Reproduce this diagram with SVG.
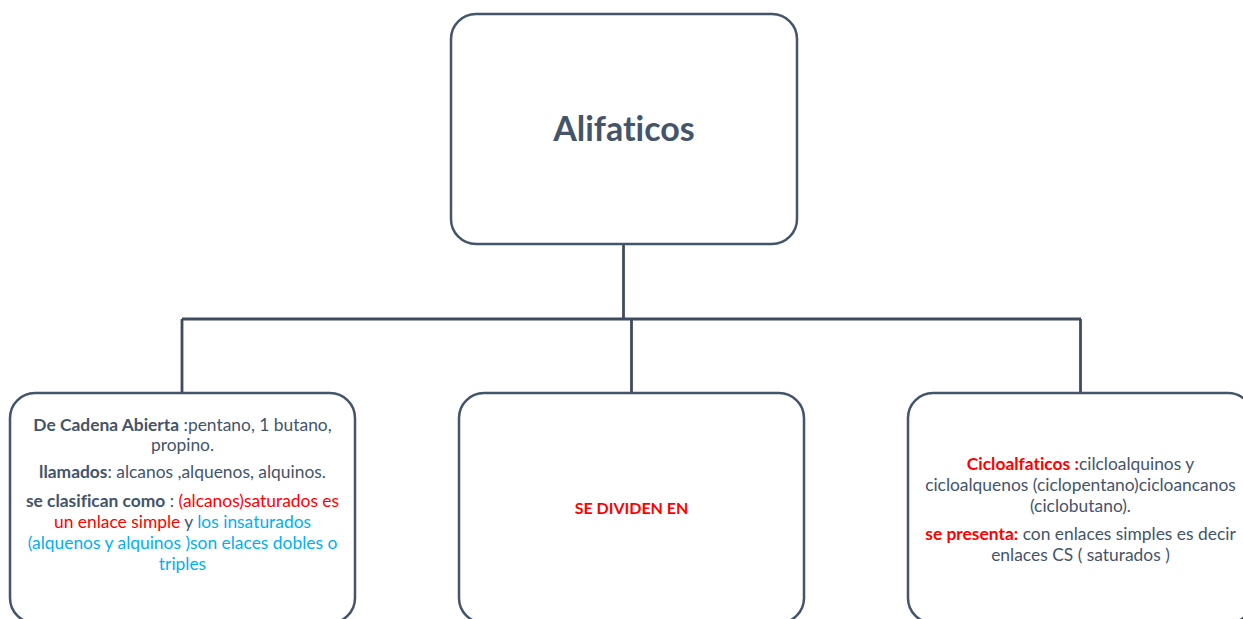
<svg xmlns="http://www.w3.org/2000/svg" width="1243" height="619" viewBox="0 0 1243 619">
<style>
.box{fill:#fff;stroke:#44546A;stroke-width:2.5}
.conn{fill:none;stroke:#3F4B5E;stroke-width:2.8}
text{font-variant-ligatures:none}
.t{font-family:Lato,"Liberation Sans",sans-serif;font-size:17.4px;fill:#44546A;text-anchor:middle}
.b{font-weight:bold}
.r{fill:#FF0000}
.c{fill:#00B0F0}
.m{font-size:16px}
.title{font-family:Lato,"Liberation Sans",sans-serif;font-size:34px;font-weight:bold;fill:#44546A;text-anchor:middle}
</style>
<rect width="1243" height="619" fill="#fff"/>
<g id="connectors">
<path class="conn" d="M623.5 244 V319"/>
<path class="conn" d="M182 319 H1081"/>
<path class="conn" d="M182 319 V393"/>
<path class="conn" d="M631.5 319 V393"/>
<path class="conn" d="M1080.5 319 V393"/>
</g>
<g id="alifaticos">
<rect class="box" x="451" y="14" width="346" height="230" rx="25"/>
<text class="title" x="624" y="141">Alifaticos</text>
</g>
<g id="cadena-abierta">
<rect class="box" x="10" y="393" width="345" height="230" rx="25"/>
<text class="t" x="182.5" y="430.5"><tspan class="b">De Cadena Abierta</tspan> :pentano, 1 butano,</text>
<text class="t" x="182.5" y="451">propino.</text>
<text class="t" x="182.5" y="478"><tspan class="b">llamados</tspan>: alcanos ,alquenos, alquinos.</text>
<text class="t" x="182.5" y="506.5"><tspan class="b">se clasifican como</tspan> : <tspan class="r">(alcanos)saturados es</tspan></text>
<text class="t" x="182.5" y="527.5"><tspan class="r">un enlace simple</tspan> y <tspan class="c">los insaturados</tspan></text>
<text class="t" x="182.5" y="548.5"><tspan class="c">(alquenos y alquinos )son elaces dobles o</tspan></text>
<text class="t" x="182.5" y="569.5"><tspan class="c">triples</tspan></text>
</g>
<g id="se-dividen">
<rect class="box" x="459" y="393" width="345" height="230" rx="25"/>
<text class="t b r m" x="631.5" y="513.5">SE DIVIDEN EN</text>
</g>
<g id="cicloalfaticos">
<rect class="box" x="908" y="393" width="345" height="230" rx="25"/>
<text class="t" x="1080.5" y="470"><tspan class="b r">Cicloalfaticos :</tspan>cilcloalquinos y</text>
<text class="t" x="1080.5" y="491">cicloalquenos (ciclopentano)cicloancanos</text>
<text class="t" x="1080.5" y="511.5">(ciclobutano).</text>
<text class="t" x="1080.5" y="539.5"><tspan class="b r">se presenta:</tspan> con enlaces simples es decir</text>
<text class="t" x="1080.5" y="560.5">enlaces CS ( saturados )</text>
</g>
</svg>
